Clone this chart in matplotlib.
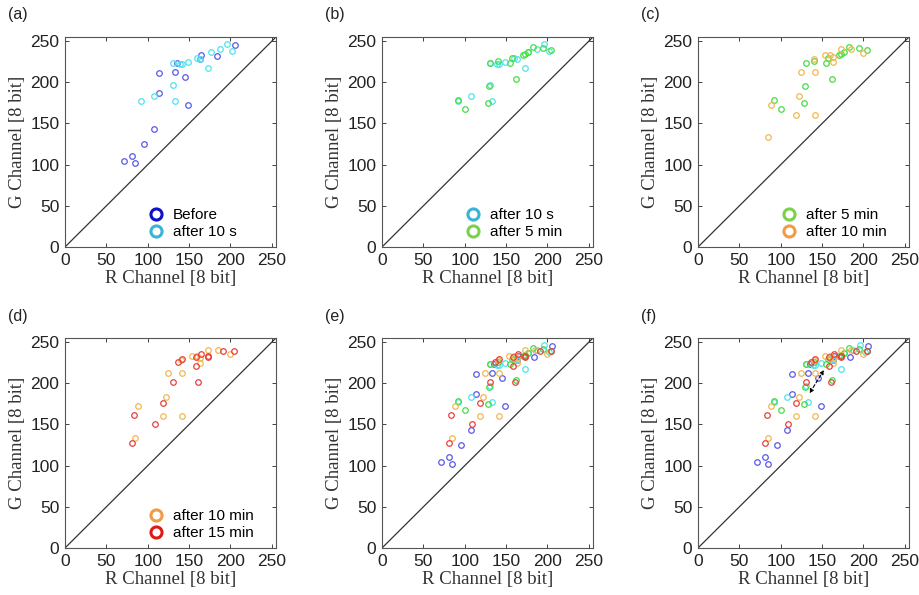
import numpy as np
import matplotlib.pyplot as plt
from matplotlib.lines import Line2D

# R / G channel readings (8 bit) for each time step
before_r = [71, 81, 84, 96, 108, 113, 113, 133, 135, 145, 149, 163, 164, 184, 206]
before_g = [104, 111, 102, 125, 143, 187, 211, 213, 224, 207, 173, 228, 233, 232, 245]

after10s_r = [92, 108, 131, 133, 130, 139, 141, 149, 160, 163, 173, 177, 187, 196, 202]
after10s_g = [177, 183, 197, 177, 223, 222, 222, 225, 229, 228, 217, 237, 240, 246, 238]

after5m_r = [92, 100, 129, 128, 131, 140, 155, 157, 162, 171, 173, 176, 182, 194, 204]
after5m_g = [179, 167, 196, 175, 224, 226, 224, 230, 204, 233, 234, 237, 243, 242, 239]

after10m_r = [85, 88, 118, 122, 125, 141, 141, 140, 154, 159, 163, 163, 173, 185, 200]
after10m_g = [133, 172, 160, 183, 212, 213, 160, 228, 233, 233, 231, 225, 241, 240, 236]

after15m_r = [81, 83, 109, 119, 131, 137, 142, 158, 158, 161, 164, 173, 173, 191, 204]
after15m_g = [127, 162, 150, 176, 202, 226, 229, 221, 232, 201, 236, 232, 233, 239, 239]

# shift indicated in panel (f)
arrow_start = (133, 185)
arrow_end = (154, 219)

series = {
    "Before": (before_r, before_g, "#5a5ae6", "#1010c8"),
    "after 10 s": (after10s_r, after10s_g, "#4fe3ef", "#38b4d4"),
    "after 5 min": (after5m_r, after5m_g, "#45de45", "#7ad24a"),
    "after 10 min": (after10m_r, after10m_g, "#f0b850", "#f39a45"),
    "after 15 min": (after15m_r, after15m_g, "#e84040", "#e01818"),
}

panels = [
    ("(a)", ["Before", "after 10 s"], True),
    ("(b)", ["after 10 s", "after 5 min"], True),
    ("(c)", ["after 5 min", "after 10 min"], True),
    ("(d)", ["after 10 min", "after 15 min"], True),
    ("(e)", ["Before", "after 10 s", "after 5 min", "after 10 min", "after 15 min"], False),
    ("(f)", ["Before", "after 10 s", "after 5 min", "after 10 min", "after 15 min"], False),
]

W, H = 919, 595
lefts = [65, 382, 698]
tops = [37, 338]
aw, ah = 211, 210

fig = plt.figure(figsize=(W / 100, H / 100), dpi=100)
sans = "Liberation Sans"
serif = "Liberation Serif"

for i, (tag, names, show_leg) in enumerate(panels):
    row, col = divmod(i, 3)
    l, t = lefts[col], tops[row]
    ax = fig.add_axes([l / W, (H - t - ah) / H, aw / W, ah / H])

    ax.plot([0, 255], [0, 255], color="#333333", lw=0.9, zorder=1)
    for name in names:
        r, g, c, _ = series[name]
        ax.plot(r, g, "o", ls="none", mfc="none", mec=c, ms=4.0, mew=0.9, zorder=3)

    if tag == "(f)":
        ax.annotate("", xy=arrow_end, xytext=arrow_start,
                    arrowprops=dict(arrowstyle="<|-|>", color="black", lw=0.8,
                                    ls=(0, (3, 2)), mutation_scale=6),
                    zorder=5)

    ax.set_xlim(0, 255)
    ax.set_ylim(0, 255)
    ticks = [0, 50, 100, 150, 200, 250]
    ax.set_xticks(ticks)
    ax.set_yticks(ticks)
    ax.tick_params(direction="in", length=3, width=0.6, top=True, right=True,
                   labelsize=12.5, colors="#222222", pad=4)
    for lab in ax.get_xticklabels() + ax.get_yticklabels():
        lab.set_fontfamily(sans)
    for sp in ax.spines.values():
        sp.set_color("#555555")
        sp.set_linewidth(0.8)

    ax.set_xlabel("R Channel [8 bit]", fontfamily=serif, fontsize=13.5,
                  color="#333333", labelpad=2)
    ax.set_ylabel("G Channel [8 bit]", fontfamily=serif, fontsize=13.5,
                  color="#333333", labelpad=3)

    fig.text((l - 57) / W, 1 - (t - 22) / H, tag, fontfamily=sans, fontsize=11.5,
             color="#222222", va="center", ha="left")

    if show_leg:
        handles = [Line2D([], [], marker="o", ls="none", mfc="none",
                          mec=series[n][3], ms=8, mew=2.2) for n in names]
        ax.legend(handles, names, loc="upper left", bbox_to_anchor=(0.345, 0.235),
                  frameon=False, handlelength=1.0, handletextpad=0.6,
                  labelspacing=0.2, borderpad=0.2,
                  prop={"family": sans, "size": 11})

fig.savefig("out.png", dpi=100)
